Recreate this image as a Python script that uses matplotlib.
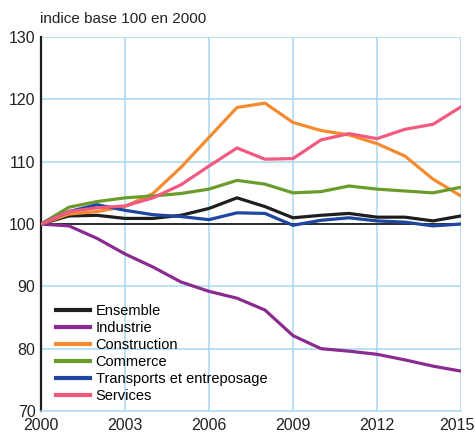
import matplotlib.pyplot as plt
import matplotlib
from matplotlib.transforms import ScaledTranslation

matplotlib.rcParams['font.family'] = ['Liberation Sans Narrow', 'Liberation Sans', 'DejaVu Sans']

years = list(range(2000, 2016))

ensemble = [100, 101.3, 101.4, 100.9, 100.9, 101.4, 102.5, 104.2, 102.8, 101.0, 101.4, 101.7, 101.1, 101.1, 100.5, 101.3]
industrie = [100, 99.7, 97.7, 95.2, 93.1, 90.7, 89.2, 88.1, 86.2, 82.1, 80.0, 79.6, 79.1, 78.2, 77.2, 76.4]
construction = [100, 101.6, 102.0, 102.8, 104.9, 109.1, 113.9, 118.7, 119.4, 116.3, 115.0, 114.3, 112.9, 110.9, 107.2, 104.5]
commerce = [100, 102.7, 103.6, 104.2, 104.5, 104.9, 105.6, 107.0, 106.4, 105.0, 105.2, 106.1, 105.6, 105.3, 105.0, 105.9]
transports = [100, 102.0, 103.1, 102.2, 101.5, 101.2, 100.7, 101.8, 101.7, 99.8, 100.6, 101.0, 100.5, 100.3, 99.7, 100.0]
services = [100, 102.0, 102.6, 102.9, 104.2, 106.3, 109.3, 112.2, 110.4, 110.5, 113.5, 114.5, 113.7, 115.2, 116.0, 118.8]

series = [
    ('Ensemble', ensemble, '#1e1e1e'),
    ('Industrie', industrie, '#8a2b8f'),
    ('Construction', construction, '#f68a2f'),
    ('Commerce', commerce, '#6b9b2b'),
    ('Transports et entreposage', transports, '#1f46a0'),
    ('Services', services, '#f05a7e'),
]

fig = plt.figure(figsize=(4.75, 4.41), dpi=100)
ax = fig.add_axes([0.0863, 0.068, 0.8842, 0.848])

grid_color = '#a8d8f0'
for v in [80, 90, 100, 110, 120, 130]:
    ax.axhline(v, color=grid_color, lw=1.1, zorder=1)
for x in [2003, 2006, 2009, 2012, 2015]:
    ax.axvline(x, color=grid_color, lw=1.1, zorder=1)
ax.axhline(100, color='#1e1e1e', lw=1.3, zorder=2)

for name, vals, col in series:
    ax.plot(years, vals, color=col, lw=2.3, label=name, zorder=3)

ax.set_xlim(2000, 2015)
ax.set_ylim(70, 130)
ax.set_xticks([2000, 2003, 2006, 2009, 2012, 2015])
ax.set_yticks([70, 80, 90, 100, 110, 120, 130])

for s in ['top', 'right']:
    ax.spines[s].set_visible(False)
ax.spines['bottom'].set_color(grid_color)
ax.spines['bottom'].set_linewidth(1.1)
ax.spines['left'].set_color('#1e1e1e')
ax.spines['left'].set_linewidth(1.6)
ax.tick_params(length=0, labelsize=11.5, colors='#222222', pad=4)
ax.tick_params(axis='x', pad=5)

# nudge the last year label so it stays inside the figure
last = ax.get_xticklabels()[-1]
last.set_transform(last.get_transform() + ScaledTranslation(-3 / 72, 0, fig.dpi_scale_trans))

fig.text(0.084, 0.958, 'indice base 100 en 2000', fontsize=11, color='#222222', va='center')

leg = ax.legend(loc='lower left', bbox_to_anchor=(0.017, 0.0), frameon=False, fontsize=10.5,
                handlelength=2.3, handletextpad=0.4, labelspacing=0.2, borderaxespad=0.15)
for h in leg.get_lines():
    h.set_linewidth(3)

fig.savefig('out.png', dpi=100)
